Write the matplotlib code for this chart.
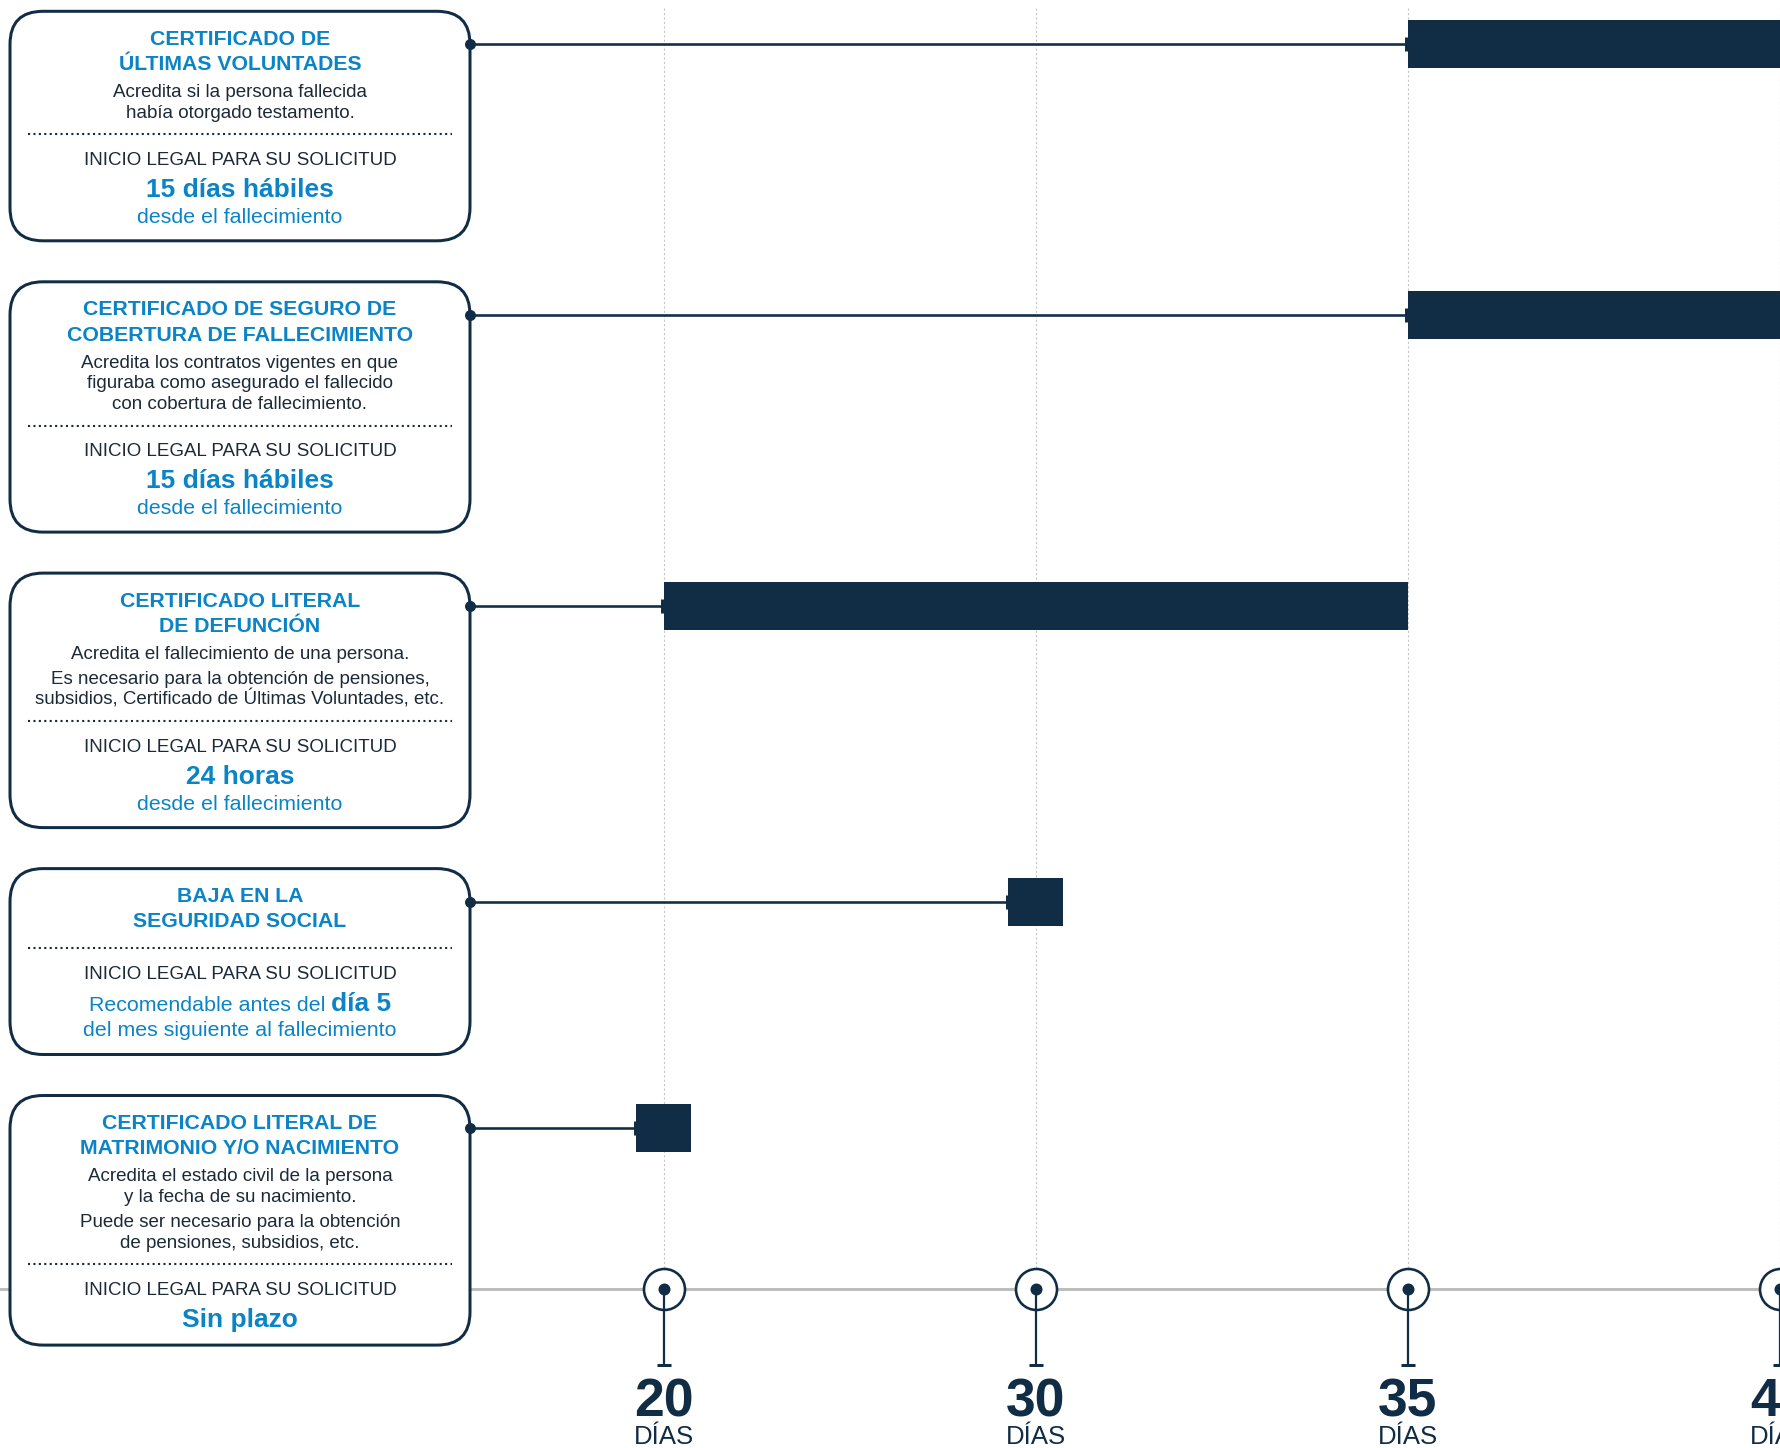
import matplotlib
matplotlib.use("Agg")
import matplotlib.pyplot as plt
from matplotlib.patches import FancyBboxPatch

plt.rcParams['font.family'] = ['Liberation Sans', 'DejaVu Sans']

# ---------------- data ----------------
tick_labels = ["20", "30", "35", "40"]
tick_unit = "DÍAS"

titles = [
    ["CERTIFICADO DE", "ÚLTIMAS VOLUNTADES"],
    ["CERTIFICADO DE SEGURO DE", "COBERTURA DE FALLECIMIENTO"],
    ["CERTIFICADO LITERAL", "DE DEFUNCIÓN"],
    ["BAJA EN LA", "SEGURIDAD SOCIAL"],
    ["CERTIFICADO LITERAL DE", "MATRIMONIO Y/O NACIMIENTO"],
]
descriptions = [
    [["Acredita si la persona fallecida", "había otorgado testamento."]],
    [["Acredita los contratos vigentes en que", "figuraba como asegurado el fallecido",
      "con cobertura de fallecimiento."]],
    [["Acredita el fallecimiento de una persona."],
     ["Es necesario para la obtención de pensiones,",
      "subsidios, Certificado de Últimas Voluntades, etc."]],
    [],
    [["Acredita el estado civil de la persona", "y la fecha de su nacimiento."],
     ["Puede ser necesario para la obtención", "de pensiones, subsidios, etc."]],
]
start_label = "INICIO LEGAL PARA SU SOLICITUD"
deadline_main = [
    [("15 días hábiles", True)],
    [("15 días hábiles", True)],
    [("24 horas", True)],
    [("Recomendable antes del", False), ("día 5", True)],
    [("Sin plazo", True)],
]
deadline_sub = ["desde el fallecimiento", "desde el fallecimiento", "desde el fallecimiento",
                "del mes siguiente al fallecimiento", None]
bar_start = ["35", "35", "20", "30", "20"]
bar_end = ["40", "40", "35", "30", "20"]

# ---------------- style / layout ----------------
W, H = 1781, 1448
PT = 100 / 72.0  # px per point
NAVY = "#112d45"
BLUE = "#0a84c6"
DARK = "#1c2a38"
GRID = "#c6c6c6"
AXIS = "#bdbdbd"

X0, DX = 664, 372        # pixel of first tick, pixels per tick
AXIS_Y = 1289
BOX_L, BOX_R = 10, 470
BOX_CX = (BOX_L + BOX_R) / 2
BAR_H = 48
POINT_W = 55 / DX

FS_TITLE = 15.3
FS_DESC = 13.5
FS_LABEL = 13.5
FS_BIG = 19.0
FS_SUB = 15.4

fig = plt.figure(figsize=(W / 100, H / 100), dpi=100)
ax = fig.add_axes([0, 0, 1, 1], zorder=1)
ax.set_xlim(-X0 / DX, (W - X0) / DX)
ax.set_ylim(H, 0)
ax.axis("off")
bx = fig.add_axes([0, 0, 1, 1], zorder=2)
bx.set_xlim(0, W)
bx.set_ylim(H, 0)
bx.axis("off")
bx.patch.set_visible(False)

idx = {t: i for i, t in enumerate(tick_labels)}

# gridlines and axis
for i, t in enumerate(tick_labels):
    ax.plot([i, i], [8, AXIS_Y], ls=(0, (2, 2)), color=GRID, lw=0.8, zorder=1)
ax.axhline(AXIS_Y, color=AXIS, lw=3 / PT, zorder=2)
for i, t in enumerate(tick_labels):
    ax.plot([i], [AXIS_Y], "o", ms=41 / PT, mfc="white", mec=NAVY, mew=2.6 / PT, zorder=3)
    ax.plot([i, i], [AXIS_Y, 1365], color=NAVY, lw=2.2 / PT, zorder=4)
    ax.plot([i], [1365], marker="_", ms=13 / PT, mew=3 / PT, color=NAVY, zorder=4)
    ax.plot([i], [AXIS_Y], "o", ms=12 / PT, color=NAVY, mec="none", zorder=5)
    ax.text(i, 1416.5, t, ha="center", va="baseline", fontsize=38.5, weight="bold", color=NAVY)
    ax.text(i, 1443.5, tick_unit, ha="center", va="baseline", fontsize=18.5, color=NAVY)

renderer = fig.canvas.get_renderer()

top = 11.3
for r in range(len(titles)):
    items = []
    y = top + 33.5
    for k, line in enumerate(titles[r]):
        if k > 0:
            y += 25.4
        items.append((y, [(line, True)], FS_TITLE, BLUE))
    if descriptions[r]:
        y += 26.8
        for p, para in enumerate(descriptions[r]):
            for k, line in enumerate(para):
                if p > 0 and k == 0:
                    y += 25.0
                elif k > 0:
                    y += 20.8
                items.append((y, [(line, False)], FS_DESC, DARK))
        y += 16.5
    else:
        y += 20.5
    dot_y = y
    y += 30.8
    items.append((y, [(start_label, False)], FS_LABEL, DARK))
    y += 32.0
    items.append((y, deadline_main[r], None, BLUE))
    if deadline_sub[r]:
        y += 25.7
        items.append((y, [(deadline_sub[r], False)], FS_SUB, BLUE))
    bottom = y + 18.0

    box = FancyBboxPatch((BOX_L, top), BOX_R - BOX_L, bottom - top,
                         boxstyle="round,pad=0,rounding_size=33",
                         fc="white", ec=NAVY, lw=3 / PT, zorder=2)
    bx.add_patch(box)
    bx.plot([BOX_L + 18, BOX_R - 18], [dot_y, dot_y], ls=(0, (1, 1.6)), lw=1.5,
            color=DARK, zorder=3)

    for (yy, parts, fs, col) in items:
        if len(parts) == 1:
            s, bold = parts[0]
            size = fs if fs is not None else FS_BIG
            bx.text(BOX_CX, yy, s, ha="center", va="baseline", fontsize=size,
                    weight="bold" if bold else "normal", color=col, zorder=4)
        else:
            objs = []
            for s, bold in parts:
                size = FS_BIG if bold else FS_SUB
                objs.append(bx.text(0, yy, s, ha="left", va="baseline", fontsize=size,
                                    weight="bold" if bold else "normal", color=col, zorder=4))
            gap = 0.278 * FS_SUB * PT
            widths = [o.get_window_extent(renderer).width for o in objs]
            total = sum(widths) + gap * (len(objs) - 1)
            x = BOX_CX - total / 2
            for o, wdt in zip(objs, widths):
                o.set_x(x)
                x += wdt + gap

    # timeline row
    row_y = top + 33
    s_i, e_i = idx[bar_start[r]], idx[bar_end[r]]
    if e_i > s_i:
        left, width = s_i, e_i - s_i
    else:
        left, width = s_i - POINT_W / 2, POINT_W
    ax.barh(row_y, width, left=left, height=BAR_H, color=NAVY, zorder=6)
    x_box = (BOX_R - X0) / DX
    ax.plot([x_box, left], [row_y, row_y], color=NAVY, lw=2.6 / PT, zorder=5)
    ax.plot([left - 1.5 / DX], [row_y], marker="|", ms=14 / PT, mew=3 / PT, color=NAVY, zorder=5)
    bx.plot([BOX_R], [row_y], "o", ms=11 / PT, color=NAVY, mec="none", zorder=5)

    top = bottom + 41.0

fig.savefig("out.png", dpi=100)
